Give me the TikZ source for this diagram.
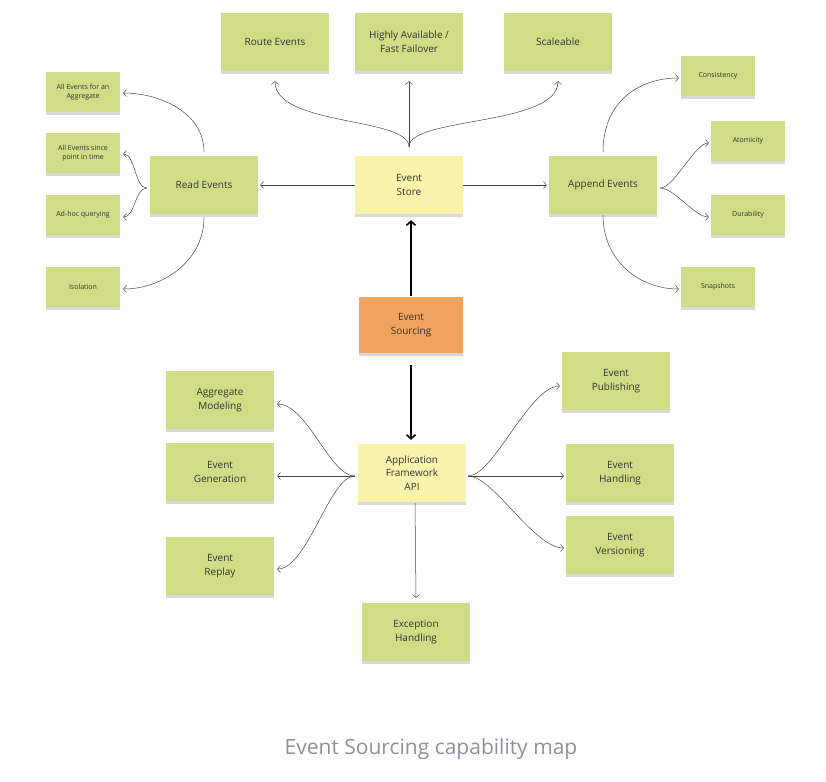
\documentclass[tikz,border=0pt]{standalone}
\usepackage{fontspec}
\setmainfont{Open Sans}
\usetikzlibrary{arrows.meta,shadows}
\definecolor{stickygreen}{RGB}{209,221,134}
\definecolor{stickyyellow}{RGB}{249,243,172}
\definecolor{stickyorange}{RGB}{240,163,94}
\definecolor{linkgray}{RGB}{70,70,70}
\definecolor{captiongray}{RGB}{138,145,153}

\begin{document}
\begin{tikzpicture}[
  x=1pt, y=1pt,
  note/.style={draw=none, fill=stickygreen, minimum width=108pt, minimum height=58pt,
    inner sep=2pt, align=center, text=black!80, font=\fontsize{10}{13.5}\selectfont,
    drop shadow={shadow xshift=0pt, shadow yshift=-3pt, opacity=.3}},
  smallnote/.style={note, minimum width=74pt, minimum height=40pt, font=\fontsize{7}{9.5}\selectfont},
  link/.style={draw=linkgray, line width=0.5pt, -{Straight Barb[length=3pt,width=7pt]}},
  mainlink/.style={black, line width=1.6pt, -{Straight Barb[length=4pt,width=9pt]}}
]
  \useasboundingbox (0,0) rectangle (826,-781);

  % Event Store
  \node[note, fill=stickyyellow] (store) at (409,-185) {Event\\Store};
  \node[note] (route) at (275,-42) {Route Events};
  \node[note] (avail) at (409,-42) {Highly Available /\\Fast Failover};
  \node[note] (scale) at (558,-42) {Scaleable};
  \node[note] (read) at (204,-185) {Read Events};
  \node[note] (append) at (603,-185) {Append Events};

  \node[smallnote] (aggr) at (83,-92) {All Events for an\\Aggregate};
  \node[smallnote] (since) at (83,-153) {All Events since\\point in time};
  \node[smallnote] (adhoc) at (83,-215) {Ad-hoc querying};
  \node[smallnote] (isol) at (83,-287) {Isolation};

  \node[smallnote] (cons) at (718,-76) {Consistency};
  \node[smallnote] (atom) at (748,-141) {Atomicity};
  \node[smallnote] (dur) at (748,-215) {Durability};
  \node[smallnote] (snap) at (718,-287) {Snapshots};

  \coordinate (storetop) at ([yshift=9pt]store.north);
  \draw[link] (storetop) .. controls +(0,30) and +(0,-45) .. ([yshift=-10pt]route.south);
  \draw[link] (storetop) -- ([yshift=-10pt]avail.south);
  \draw[link] (storetop) .. controls +(0,30) and +(0,-45) .. ([yshift=-10pt]scale.south);
  \draw[link] (store.west) -- ([xshift=2pt]read.east);
  \draw[link] (store.east) -- ([xshift=-2pt]append.west);

  % Read Events
  \draw[link] ([yshift=4pt]read.north) .. controls +(0,40) and +(35,0) .. ([xshift=3pt,yshift=-1pt]aggr.east);
  \coordinate (readfork) at ([xshift=-3pt,yshift=-3pt]read.west);
  \draw[link] (readfork) .. controls +(-12,0) and +(12,0) .. ([xshift=3pt,yshift=-1pt]since.east);
  \draw[link] (readfork) .. controls +(-12,0) and +(12,0) .. ([xshift=3pt,yshift=-2pt]adhoc.east);
  \draw[link] ([yshift=-3pt]read.south) .. controls +(0,-45) and +(38,0) .. ([xshift=3pt,yshift=-2pt]isol.east);

  % Append Events
  \draw[link] ([yshift=4pt]append.north) .. controls +(0,50) and +(-40,0) .. ([xshift=-2pt,yshift=-2pt]cons.west);
  \coordinate (appendfork) at ([xshift=3pt,yshift=-3pt]append.east);
  \draw[link] (appendfork) .. controls +(14,0) and +(-14,0) .. ([xshift=-2pt,yshift=-2pt]atom.west);
  \draw[link] (appendfork) .. controls +(14,0) and +(-14,0) .. ([xshift=-2pt,yshift=-2pt]dur.west);
  \draw[link] ([yshift=-1pt]append.south) .. controls +(0,-45) and +(-40,0) .. ([xshift=-2pt,yshift=-2pt]snap.west);

  % Event Sourcing
  \node[note, fill=stickyorange, minimum width=104pt, minimum height=56pt] (es) at (411,-325) {Event\\Sourcing};
  \draw[mainlink] ([yshift=1pt]es.north) -- ([yshift=-6pt]es.north |- store.south);

  % Application Framework API
  \node[note, fill=stickyyellow] (api) at (412,-473) {Application\\Framework\\API};
  \draw[mainlink] ([yshift=-12pt]es.south) -- ([yshift=4pt]es.south |- api.north);

  \node[note] (aggmod) at (220,-400) {Aggregate\\Modeling};
  \node[note] (gen) at (220,-472) {Event\\Generation};
  \node[note] (replay) at (220,-566) {Event\\Replay};
  \node[note] (publ) at (616,-381) {Event\\Publishing};
  \node[note] (handl) at (620,-473) {Event\\Handling};
  \node[note] (vers) at (620,-545) {Event\\Versioning};
  \node[note] (exc) at (416,-632) {Exception\\Handling};

  \coordinate (apileft) at ([xshift=-3pt,yshift=-3pt]api.west);
  \draw[link] (apileft) .. controls +(-25,0) and +(30,0) .. ([xshift=3pt,yshift=-4pt]aggmod.east);
  \draw[link] (apileft) -- ([xshift=3pt,yshift=-4pt]gen.east);
  \draw[link] (apileft) .. controls +(-25,0) and +(30,0) .. ([xshift=3pt,yshift=-3pt]replay.east);
  \coordinate (apiright) at ([xshift=2pt,yshift=-3pt]api.east);
  \draw[link] (apiright) .. controls +(25,0) and +(-30,0) .. ([xshift=-2pt,yshift=-5pt]publ.west);
  \draw[link] (apiright) -- ([xshift=-2pt,yshift=-3pt]handl.west);
  \draw[link] (apiright) .. controls +(25,0) and +(-30,0) .. ([xshift=-2pt,yshift=-3pt]vers.west);
  \draw[link] ([xshift=3pt,yshift=-1pt]api.south) -- ([yshift=5pt]exc.north);

  \node[text=captiongray, font=\fontsize{21}{25}\selectfont] (caption) at (431,-749) {Event Sourcing capability map};
\end{tikzpicture}
\end{document}
